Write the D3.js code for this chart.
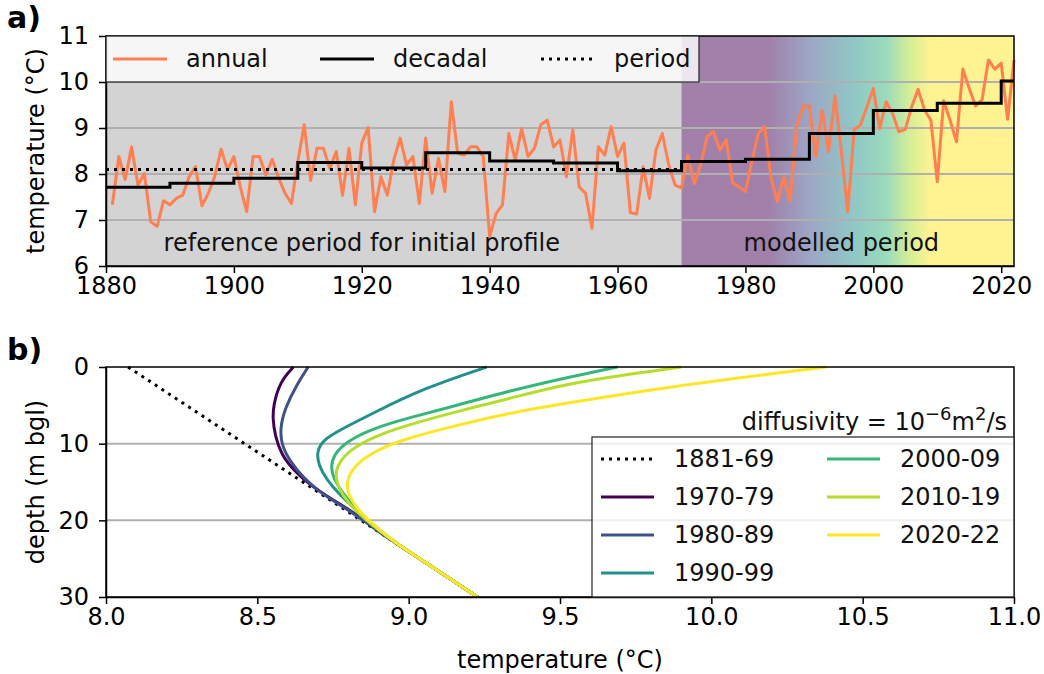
<!DOCTYPE html>
<html>
<head>
<meta charset="utf-8">
<script src="https://cdn.jsdelivr.net/npm/d3@7"></script>
<style>
  body { margin: 0; background: #fff; }
  svg { font-family: "DejaVu Sans", sans-serif; }
</style>
</head>
<body>
<svg id="fig" width="1044" height="674"></svg>
<script>
// ---- panel a: air temperature ----
const firstYear = 1881;
const lastYear = 2022;
const annualTemp = [
  7.33, 8.38, 7.88, 8.59, 7.76, 8.01, 6.96, 6.86, 7.42,
  7.33, 7.47, 7.54, 7.94, 8.16, 7.31, 7.58, 7.94, 8.54, 8.09,
  8.38, 7.72, 7.18, 8.38, 8.38, 7.98, 8.32, 7.91, 7.58, 7.36,
  8.27, 9.07, 7.86, 8.56, 8.56, 8.12, 8.49, 7.54, 8.56, 7.33,
  8.67, 9.01, 7.18, 7.94, 7.54, 8.30, 8.78, 8.20, 8.38, 7.36,
  8.78, 7.58, 8.34, 7.62, 9.57, 8.45, 8.41, 8.59, 8.59, 8.38,
  6.64, 7.14, 7.33, 8.88, 8.30, 8.99, 8.38, 8.56, 9.07, 9.17,
  8.59, 8.74, 7.94, 8.96, 7.72, 7.58, 6.82, 8.59, 8.41, 9.03,
  8.38, 8.67, 7.16, 7.13, 8.16, 7.47, 8.52, 8.88, 8.20, 7.76,
  7.70, 8.41, 7.78, 8.20, 8.81, 8.92, 8.52, 8.75, 7.80, 7.72,
  7.62, 8.27, 8.88, 9.03, 7.91, 7.40, 7.94, 7.42, 9.03, 9.48,
  9.48, 8.38, 9.39, 8.49, 9.70, 8.49, 7.18, 8.96, 9.07, 9.46,
  9.86, 8.99, 9.57, 9.32, 8.92, 8.97, 9.46, 9.84, 9.39, 9.17,
  7.83, 9.59, 9.17, 8.70, 10.28, 9.86, 9.48, 9.61, 10.48, 10.28,
  10.41, 9.19, 10.48
];
const decadeStart = [1880, 1890, 1900, 1910, 1920, 1930, 1940, 1950, 1960, 1970, 1980, 1990, 2000, 2010, 2020];
const decadalTemp = [7.71, 7.80, 7.91, 8.25, 8.13, 8.46, 8.28, 8.24, 8.07, 8.27, 8.32, 8.88, 9.38, 9.54, 10.02];
const periodStart = 1880;
const periodEnd = 1970;
const periodTemp = 8.10;
const yearTicks = [1880, 1900, 1920, 1940, 1960, 1980, 2000, 2020];
const tempTicks = [6, 7, 8, 9, 10, 11];

// colour band behind the modelled years
const bandYears = [1970, 1983.5, 1990.5, 1997, 2002, 2006, 2009, 2022];
const bandColors = ["#440154", "#440154", "#3b528b", "#21918c", "#35b779", "#b5de2b", "#fde725", "#fde725"];

// ---- panel b: ground temperature profiles ----
const profileLabels = ["1970-79", "1980-89", "1990-99", "2000-09", "2010-19", "2020-22"];
const profileColors = ["#440154", "#3b528b", "#21918c", "#35b779", "#b5de2b", "#fde725"];
const initialProfile = [[8.073, 0], [9.228, 30]];
const profile1970 = [[8.619, 0], [8.575, 1.9], [8.553, 5.0], [8.551, 6.7], [8.558, 8.9], [8.580, 11.5], [8.619, 13.4], [8.674, 15.4], [8.740, 17.1], [8.806, 18.7], [8.850, 19.9], [8.950, 22.8], [9.060, 25.6], [9.228, 30]];
const profile1980 = [[8.668, 0], [8.630, 2.3], [8.591, 5.4], [8.575, 8.0], [8.580, 10.2], [8.608, 12.3], [8.652, 14.5], [8.718, 16.7], [8.784, 18.2], [8.850, 20.0], [8.950, 22.8], [9.060, 25.6], [9.228, 30]];
const profile1990 = [[9.258, 0], [9.048, 2.8], [8.883, 6.0], [8.773, 8.2], [8.718, 9.5], [8.696, 11.0], [8.702, 12.8], [8.729, 14.7], [8.773, 16.7], [8.828, 18.7], [8.872, 20.2], [8.950, 22.8], [9.060, 25.6], [9.228, 30]];
const profile2000 = [[9.690, 0], [9.520, 1.4], [9.345, 3.0], [9.159, 5.0], [8.993, 6.7], [8.883, 8.0], [8.795, 9.7], [8.751, 11.5], [8.742, 13.2], [8.757, 15.0], [8.795, 17.1], [8.850, 19.7], [8.950, 22.8], [9.060, 25.6], [9.228, 30]];
const profile2010 = [[9.900, 0], [9.660, 1.3], [9.477, 2.6], [9.335, 4.1], [9.159, 5.8], [8.993, 7.6], [8.883, 9.1], [8.806, 10.8], [8.767, 12.6], [8.757, 14.1], [8.768, 15.8], [8.801, 17.8], [8.850, 19.7], [8.950, 22.8], [9.060, 25.6], [9.228, 30]];
const profile2020 = [[10.380, 0], [9.850, 2.6], [9.477, 5.0], [9.335, 6.0], [9.159, 7.6], [8.993, 9.3], [8.883, 11.0], [8.817, 13.0], [8.793, 15.0], [8.801, 16.7], [8.828, 18.4], [8.872, 20.2], [8.950, 22.8], [9.060, 25.6], [9.228, 30]];
const profiles = [profile1970, profile1980, profile1990, profile2000, profile2010, profile2020];
const depthTicks = [0, 10, 20, 30];
const groundTicks = [8.0, 8.5, 9.0, 9.5, 10.0, 10.5, 11.0];

const svg = d3.select("#fig");
const fontSize = 24;
const left = 106, right = 1014;
const topA = 36, bottomA = 266;
const topB = 367, bottomB = 597;
const gridColor = "#b0b0b0";

function styleAxis(g) {
  g.selectAll("path").attr("stroke", "#000").attr("stroke-width", 1.5);
  g.selectAll(".tick line").attr("stroke", "#000").attr("stroke-width", 1.5);
  g.selectAll(".tick text").attr("font-size", fontSize).attr("fill", "#000")
    .attr("font-family", "DejaVu Sans, sans-serif");
}

// ================= panel a =================
const x = d3.scaleLinear().domain([1880, lastYear]).range([left, right]);
const y = d3.scaleLinear().domain([6, 11]).range([bottomA, topA]);
const a = svg.append("g");

// reference period shading
a.append("rect")
  .attr("x", x(periodStart)).attr("y", topA)
  .attr("width", x(periodEnd) - x(periodStart)).attr("height", bottomA - topA)
  .attr("fill", "#d3d3d3");

// modelled period colour band
const grad = svg.append("defs").append("linearGradient")
  .attr("id", "band")
  .attr("gradientUnits", "userSpaceOnUse")
  .attr("x1", x(bandYears[0])).attr("x2", x(bandYears[bandYears.length - 1]))
  .attr("y1", 0).attr("y2", 0);
bandYears.forEach((yr, i) => {
  grad.append("stop")
    .attr("offset", (yr - bandYears[0]) / (bandYears[bandYears.length - 1] - bandYears[0]))
    .attr("stop-color", bandColors[i]);
});
a.append("rect")
  .attr("x", x(periodEnd)).attr("y", topA)
  .attr("width", x(lastYear) - x(periodEnd)).attr("height", bottomA - topA)
  .attr("fill", "url(#band)").attr("fill-opacity", 0.5);

// grid
a.selectAll(".gridA").data(tempTicks.slice(1, -1))
  .enter().append("line")
  .attr("x1", left).attr("x2", right)
  .attr("y1", d => y(d)).attr("y2", d => y(d))
  .attr("stroke", gridColor).attr("stroke-width", 2);

// period labels
a.append("text").attr("x", x(1920)).attr("y", y(6.5)).attr("dy", "0.35em")
  .attr("text-anchor", "middle").attr("font-size", fontSize).attr("fill", "#111")
  .text("reference period for initial profile");
a.append("text").attr("x", x(1995)).attr("y", y(6.5)).attr("dy", "0.35em")
  .attr("text-anchor", "middle").attr("font-size", fontSize).attr("fill", "#111")
  .text("modelled period");

// annual series
const annualLine = d3.line()
  .x((d, i) => x(firstYear + i))
  .y(d => y(d));
a.append("path").datum(annualTemp)
  .attr("d", annualLine)
  .attr("fill", "none").attr("stroke", "#ff7f50").attr("stroke-width", 3)
  .attr("stroke-linejoin", "round");

// decadal steps
const decadalPts = decadeStart.map((yr, i) => [yr, decadalTemp[i]]);
decadalPts.push([lastYear, decadalTemp[decadalTemp.length - 1]]);
a.append("path").datum(decadalPts)
  .attr("d", d3.line().x(d => x(d[0])).y(d => y(d[1])).curve(d3.curveStepAfter))
  .attr("fill", "none").attr("stroke", "#000").attr("stroke-width", 3);

// reference period mean
a.append("line")
  .attr("x1", x(periodStart)).attr("x2", x(periodEnd))
  .attr("y1", y(periodTemp)).attr("y2", y(periodTemp))
  .attr("stroke", "#000").attr("stroke-width", 3).attr("stroke-dasharray", "3,5");

// axes
a.append("g").attr("transform", `translate(0,${bottomA})`)
  .call(d3.axisBottom(x).tickValues(yearTicks).tickFormat(d3.format("d")).tickSize(7).tickPadding(4).tickSizeOuter(0))
  .call(styleAxis);
a.append("g").attr("transform", `translate(${left},0)`)
  .call(d3.axisLeft(y).tickValues(tempTicks).tickFormat(d3.format("d")).tickSize(7).tickPadding(10).tickSizeOuter(0))
  .call(styleAxis);
a.append("rect").attr("x", left).attr("y", topA)
  .attr("width", right - left).attr("height", bottomA - topA)
  .attr("fill", "none").attr("stroke", "#000").attr("stroke-width", 1.5);

// legend
const legA = a.append("g");
legA.append("rect").attr("x", left).attr("y", topA).attr("width", 593).attr("height", 46)
  .attr("fill", "#fff").attr("fill-opacity", 0.8).attr("stroke", "#222").attr("stroke-width", 1.2);
const legAItems = [
  { label: "annual", x0: 113, color: "#ff7f50", dash: null },
  { label: "decadal", x0: 320, color: "#000", dash: null },
  { label: "period", x0: 541, color: "#000", dash: "3,5" }
];
legAItems.forEach(d => {
  legA.append("line").attr("x1", d.x0).attr("x2", d.x0 + 54)
    .attr("y1", 59).attr("y2", 59)
    .attr("stroke", d.color).attr("stroke-width", 3)
    .attr("stroke-dasharray", d.dash);
  legA.append("text").attr("x", d.x0 + 73).attr("y", 59).attr("dy", "0.35em")
    .attr("font-size", fontSize).attr("fill", "#111").text(d.label);
});

a.append("text")
  .attr("transform", `rotate(-90, 36, ${y(8.5)})`)
  .attr("x", 36).attr("y", y(8.5)).attr("dy", "0.35em")
  .attr("text-anchor", "middle").attr("font-size", fontSize).text("temperature (°C)");
a.append("text").attr("x", 7).attr("y", 28)
  .attr("font-size", 30).attr("font-weight", "bold").text("a)");

// ================= panel b =================
const xb = d3.scaleLinear().domain([8, 11]).range([left, right]);
const yb = d3.scaleLinear().domain([0, 30]).range([topB, bottomB]);
const b = svg.append("g");

b.selectAll(".gridB").data(depthTicks.slice(1, -1))
  .enter().append("line")
  .attr("x1", left).attr("x2", right)
  .attr("y1", d => yb(d)).attr("y2", d => yb(d))
  .attr("stroke", gridColor).attr("stroke-width", 2);

// smoothed profile through the read-off points
const profLine = d3.line()
  .x(d => xb(d[0])).y(d => yb(d[1]))
  .curve(d3.curveBasis);

b.append("path").datum(initialProfile)
  .attr("d", profLine)
  .attr("fill", "none").attr("stroke", "#000").attr("stroke-width", 3)
  .attr("stroke-dasharray", "3,5");

b.selectAll(".profile").data(profiles)
  .enter().append("path")
  .attr("class", "profile")
  .attr("d", profLine)
  .attr("fill", "none")
  .attr("stroke", (d, i) => profileColors[i])
  .attr("stroke-width", 3);

b.append("g").attr("transform", `translate(0,${bottomB})`)
  .call(d3.axisBottom(xb).tickValues(groundTicks).tickFormat(d3.format(".1f")).tickSize(7).tickPadding(4).tickSizeOuter(0))
  .call(styleAxis);
b.append("g").attr("transform", `translate(${left},0)`)
  .call(d3.axisLeft(yb).tickValues(depthTicks).tickSize(7).tickPadding(10).tickSizeOuter(0))
  .call(styleAxis);
b.append("rect").attr("x", left).attr("y", topB)
  .attr("width", right - left).attr("height", bottomB - topB)
  .attr("fill", "none").attr("stroke", "#000").attr("stroke-width", 1.5);

// diffusivity note
const note = b.append("text").attr("x", 1007).attr("y", 430)
  .attr("text-anchor", "end").attr("font-size", fontSize).attr("fill", "#111");
note.append("tspan").text("diffusivity = 10");
note.append("tspan").attr("dy", -10).attr("font-size", 18).text("\u22126");
note.append("tspan").attr("dy", 10).text("m");
note.append("tspan").attr("dy", -10).attr("font-size", 18).text("2");
note.append("tspan").attr("dy", 10).text("/s");

// legend
const legB = b.append("g");
legB.append("rect").attr("x", 592).attr("y", 437).attr("width", right - 592).attr("height", bottomB - 437)
  .attr("fill", "#fff").attr("fill-opacity", 0.8).attr("stroke", "#222").attr("stroke-width", 1.2);
const legBItems = [{ label: "1881-69", color: "#000", dash: "3,5" }]
  .concat(profileLabels.map((l, i) => ({ label: l, color: profileColors[i], dash: null })));
const rowY = [459, 497, 535, 573];
legBItems.forEach((d, i) => {
  const col = i < 4 ? 0 : 1;
  const row = i < 4 ? i : i - 4;
  const lx = col === 0 ? 601 : 827;
  legB.append("line").attr("x1", lx).attr("x2", lx + 53)
    .attr("y1", rowY[row]).attr("y2", rowY[row])
    .attr("stroke", d.color).attr("stroke-width", 3)
    .attr("stroke-dasharray", d.dash);
  legB.append("text").attr("x", lx + 73).attr("y", rowY[row]).attr("dy", "0.35em")
    .attr("font-size", fontSize).attr("fill", "#111").text(d.label);
});

b.append("text")
  .attr("transform", `rotate(-90, 36, ${yb(15)})`)
  .attr("x", 36).attr("y", yb(15)).attr("dy", "0.35em")
  .attr("text-anchor", "middle").attr("font-size", fontSize).text("depth (m bgl)");
b.append("text").attr("x", (left + right) / 2).attr("y", 668)
  .attr("text-anchor", "middle").attr("font-size", fontSize).text("temperature (°C)");
b.append("text").attr("x", 7).attr("y", 360)
  .attr("font-size", 30).attr("font-weight", "bold").text("b)");
</script>
</body>
</html>
